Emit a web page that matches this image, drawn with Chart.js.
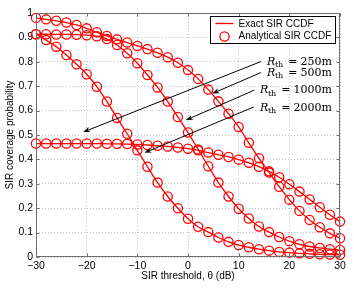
<!DOCTYPE html>
<html><head><meta charset="utf-8">
<script src="https://cdn.jsdelivr.net/npm/chart.js@4/dist/chart.umd.min.js"></script>
<style>html,body{margin:0;padding:0;background:#fff;}#wrap{width:354px;height:292px;}</style>
</head><body><div id="wrap"><canvas id="c" width="354" height="292"></canvas></div>
<script>
// ---- data ----
const thetaDb = [-30,-28,-26,-24,-22,-20,-18,-16,-14,-12,-10,-8,-6,-4,-2,0,2,4,6,8,10,12,14,16,18,20,22,24,26,28,30];
const ccdf250  = [0.465,0.465,0.465,0.465,0.465,0.465,0.465,0.464,0.464,0.463,0.461,0.459,0.456,0.453,0.449,0.444,0.437,0.428,0.419,0.410,0.399,0.386,0.370,0.351,0.327,0.298,0.268,0.236,0.204,0.173,0.145];
const ccdf500  = [0.980,0.974,0.968,0.961,0.951,0.937,0.921,0.906,0.892,0.879,0.865,0.852,0.837,0.819,0.796,0.766,0.730,0.686,0.638,0.587,0.533,0.468,0.405,0.346,0.288,0.235,0.189,0.152,0.122,0.097,0.077];
const ccdf1000 = [0.913,0.913,0.912,0.912,0.911,0.909,0.905,0.893,0.869,0.835,0.794,0.746,0.695,0.637,0.574,0.510,0.441,0.372,0.305,0.248,0.198,0.158,0.125,0.102,0.082,0.065,0.052,0.043,0.037,0.032,0.029];
const ccdf2000 = [0.913,0.889,0.862,0.828,0.790,0.749,0.698,0.637,0.570,0.505,0.437,0.370,0.305,0.248,0.200,0.157,0.124,0.102,0.080,0.062,0.049,0.040,0.032,0.026,0.021,0.018,0.015,0.013,0.011,0.010,0.009];
const xTicks = [-30,-20,-10,0,10,20,30];
const yTicks = [0,0.1,0.2,0.3,0.4,0.5,0.6,0.7,0.8,0.9,1];
const seriesNames = ['Exact SIR CCDF','Analytical SIR CCDF'];
const radiusLabels = ['250m','500m','1000m','2000m'];
const labelRightX = [28.4,28.4,28.4,28.4];
const labelY = [0.805,0.760,0.687,0.616];
const arrowTail = [[14.4,0.801],[14.4,0.756],[13.1,0.684],[13.0,0.615]];
const arrowHead = [[-20.7,0.512],[4.8,0.670],[-0.4,0.561],[-8.6,0.427]];

const RED = '#ff0000';
const curves = [ccdf250, ccdf500, ccdf1000, ccdf2000];
const pts = arr => thetaDb.map((t,i)=>({x:t,y:arr[i]}));
const datasets = [];
curves.forEach(c=>datasets.push({label:seriesNames[0],data:pts(c),borderColor:RED,borderWidth:1.3,pointRadius:0,fill:false,cubicInterpolationMode:'monotone',clip:false}));
curves.forEach(c=>datasets.push({label:seriesNames[1],data:pts(c),showLine:false,borderColor:RED,backgroundColor:'rgba(0,0,0,0)',pointBorderColor:RED,pointBackgroundColor:'rgba(0,0,0,0)',pointRadius:4.6,pointBorderWidth:1.3,clip:false}));

const FONT = 'Liberation Sans, Arial, Helvetica, sans-serif';
const fmtX = v => v<0 ? '\u2212'+Math.abs(v) : String(v);

const decor = {
  id:'decor',
  afterDatasetsDraw(chart){
    const {ctx, chartArea:ca, scales:{x,y}} = chart;
    ctx.save();
    // axes box
    ctx.strokeStyle='#6e6e6e'; ctx.lineWidth=1;
    const L=Math.round(ca.left)+0.5, R=Math.round(ca.right)-0.5, T=Math.round(ca.top)+0.5, B=Math.round(ca.bottom)-0.5;
    ctx.strokeRect(L,T,R-L,B-T);
    ctx.beginPath();
    xTicks.forEach(v=>{const px=Math.round(x.getPixelForValue(v))+0.5; ctx.moveTo(px,B); ctx.lineTo(px,B-3); ctx.moveTo(px,T); ctx.lineTo(px,T+3);});
    yTicks.forEach(v=>{const py=Math.round(y.getPixelForValue(v))+0.5; ctx.moveTo(L,py); ctx.lineTo(L+3,py); ctx.moveTo(R,py); ctx.lineTo(R-3,py);});
    ctx.stroke();
    // arrows
    ctx.strokeStyle='#000'; ctx.fillStyle='#000'; ctx.lineWidth=1;
    arrowTail.forEach((t,i)=>{
      const x0=x.getPixelForValue(t[0]), y0=y.getPixelForValue(t[1]);
      const x1=x.getPixelForValue(arrowHead[i][0]), y1=y.getPixelForValue(arrowHead[i][1]);
      const a=Math.atan2(y1-y0,x1-x0);
      ctx.beginPath(); ctx.moveTo(x0,y0); ctx.lineTo(x1-4*Math.cos(a),y1-4*Math.sin(a)); ctx.stroke();
      ctx.beginPath(); ctx.moveTo(x1,y1);
      ctx.lineTo(x1-7*Math.cos(a)+2.6*Math.sin(a), y1-7*Math.sin(a)-2.6*Math.cos(a));
      ctx.lineTo(x1-5*Math.cos(a), y1-5*Math.sin(a));
      ctx.lineTo(x1-7*Math.cos(a)-2.6*Math.sin(a), y1-7*Math.sin(a)+2.6*Math.cos(a));
      ctx.closePath(); ctx.fill();
    });
    // labels R_th = ...
    ctx.textBaseline='alphabetic'; ctx.textAlign='left';
    radiusLabels.forEach((r,i)=>{
      const right=x.getPixelForValue(labelRightX[i]);
      const base=y.getPixelForValue(labelY[i])+4;
      ctx.font='11px "DejaVu Serif"'; const wNum=ctx.measureText(r).width;
      const wEq=ctx.measureText('=').width;
      ctx.font='8px "DejaVu Serif"'; const wTh=ctx.measureText('th').width;
      ctx.font='italic 11px "DejaVu Serif"'; const wR=ctx.measureText('R').width;
      let cx=right-wNum;
      ctx.font='11px "DejaVu Serif"'; ctx.fillText(r,cx,base);
      cx-=3+wEq; ctx.fillText('=',cx,base);
      cx-=5+wTh; ctx.font='8px "DejaVu Serif"'; ctx.fillText('th',cx,base+2.5);
      cx-=wR-0.5; ctx.font='italic 11px "DejaVu Serif"'; ctx.fillText('R',cx,base);
    });
    // legend
    const lw=125, lh=27, lx=Math.round(ca.right)-129.5, ly=Math.round(ca.top)+3.5;
    ctx.fillStyle='#fff'; ctx.fillRect(lx,ly,lw,lh);
    ctx.strokeStyle='#000'; ctx.lineWidth=1; ctx.strokeRect(lx,ly,lw,lh);
    ctx.strokeStyle=RED; ctx.lineWidth=1.3;
    ctx.beginPath(); ctx.moveTo(lx+5,ly+7); ctx.lineTo(lx+23,ly+7); ctx.stroke();
    ctx.beginPath(); ctx.arc(lx+14,ly+20,4.6,0,Math.PI*2); ctx.stroke();
    ctx.fillStyle='#000'; ctx.font='10px '+FONT; ctx.textBaseline='middle';
    ctx.fillText(seriesNames[0],lx+28,ly+7.5);
    ctx.fillText(seriesNames[1],lx+28,ly+20);
    ctx.restore();
  }
};

new Chart(document.getElementById('c'),{
  type:'line',
  data:{datasets},
  options:{
    responsive:false, animation:false, devicePixelRatio:1,
    layout:{padding:{top:13,right:14,left:0,bottom:0}},
    plugins:{legend:{display:false},tooltip:{enabled:false}},
    scales:{
      x:{type:'linear',min:-30,max:30,
        afterBuildTicks:s=>{s.ticks=xTicks.map(v=>({value:v}));},
        afterFit:s=>{s.height=35;},
        ticks:{font:{family:FONT,size:10.5},color:'#000',padding:3,maxRotation:0,autoSkip:false,callback:v=>fmtX(v)},
        grid:{drawTicks:false,color:'#c4c4c4',lineWidth:1},
        border:{display:false,dash:[1,2]},
        title:{display:true,text:'SIR threshold, \u03b8 (dB)',font:{family:FONT,size:10},color:'#000',padding:{top:0,bottom:10}}
      },
      y:{type:'linear',min:0,max:1,
        afterBuildTicks:s=>{s.ticks=yTicks.map(v=>({value:v}));},
        afterFit:s=>{s.width=36;},
        ticks:{font:{family:FONT,size:10.5},color:'#000',padding:3,autoSkip:false,callback:v=>String(v)},
        grid:{drawTicks:false,color:'#c4c4c4',lineWidth:1},
        border:{display:false,dash:[1,2]},
        title:{display:true,text:'SIR coverage probability',font:{family:FONT,size:10},color:'#000',padding:{top:4,bottom:0}}
      }
    }
  },
  plugins:[decor]
});
</script></body></html>
